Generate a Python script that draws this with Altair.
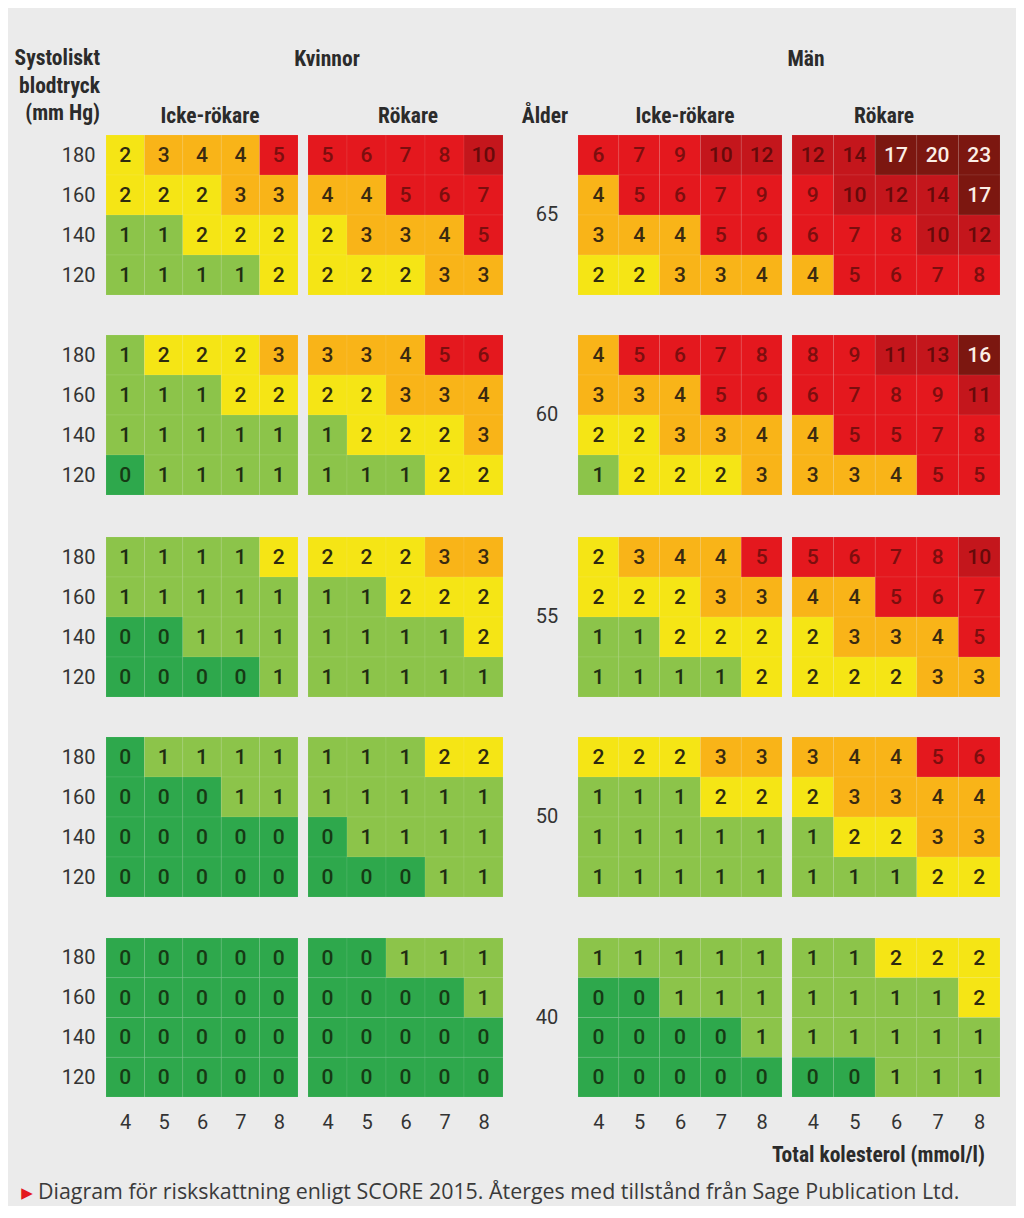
import altair as alt
import pandas as pd

# ---------------- data ----------------
chol = [4, 5, 6, 7, 8]
sbp = [180, 160, 140, 120]
ages = [65, 60, 55, 50, 40]
groups = [("Kvinnor", "Icke-rökare"), ("Kvinnor", "Rökare"),
          ("Män", "Icke-rökare"), ("Män", "Rökare")]

women_nonsmoker = {
    65: [[2, 3, 4, 4, 5], [2, 2, 2, 3, 3], [1, 1, 2, 2, 2], [1, 1, 1, 1, 2]],
    60: [[1, 2, 2, 2, 3], [1, 1, 1, 2, 2], [1, 1, 1, 1, 1], [0, 1, 1, 1, 1]],
    55: [[1, 1, 1, 1, 2], [1, 1, 1, 1, 1], [0, 0, 1, 1, 1], [0, 0, 0, 0, 1]],
    50: [[0, 1, 1, 1, 1], [0, 0, 0, 1, 1], [0, 0, 0, 0, 0], [0, 0, 0, 0, 0]],
    40: [[0, 0, 0, 0, 0], [0, 0, 0, 0, 0], [0, 0, 0, 0, 0], [0, 0, 0, 0, 0]],
}
women_smoker = {
    65: [[5, 6, 7, 8, 10], [4, 4, 5, 6, 7], [2, 3, 3, 4, 5], [2, 2, 2, 3, 3]],
    60: [[3, 3, 4, 5, 6], [2, 2, 3, 3, 4], [1, 2, 2, 2, 3], [1, 1, 1, 2, 2]],
    55: [[2, 2, 2, 3, 3], [1, 1, 2, 2, 2], [1, 1, 1, 1, 2], [1, 1, 1, 1, 1]],
    50: [[1, 1, 1, 2, 2], [1, 1, 1, 1, 1], [0, 1, 1, 1, 1], [0, 0, 0, 1, 1]],
    40: [[0, 0, 1, 1, 1], [0, 0, 0, 0, 1], [0, 0, 0, 0, 0], [0, 0, 0, 0, 0]],
}
men_nonsmoker = {
    65: [[6, 7, 9, 10, 12], [4, 5, 6, 7, 9], [3, 4, 4, 5, 6], [2, 2, 3, 3, 4]],
    60: [[4, 5, 6, 7, 8], [3, 3, 4, 5, 6], [2, 2, 3, 3, 4], [1, 2, 2, 2, 3]],
    55: [[2, 3, 4, 4, 5], [2, 2, 2, 3, 3], [1, 1, 2, 2, 2], [1, 1, 1, 1, 2]],
    50: [[2, 2, 2, 3, 3], [1, 1, 1, 2, 2], [1, 1, 1, 1, 1], [1, 1, 1, 1, 1]],
    40: [[1, 1, 1, 1, 1], [0, 0, 1, 1, 1], [0, 0, 0, 0, 1], [0, 0, 0, 0, 0]],
}
men_smoker = {
    65: [[12, 14, 17, 20, 23], [9, 10, 12, 14, 17], [6, 7, 8, 10, 12], [4, 5, 6, 7, 8]],
    60: [[8, 9, 11, 13, 16], [6, 7, 8, 9, 11], [4, 5, 5, 7, 8], [3, 3, 4, 5, 5]],
    55: [[5, 6, 7, 8, 10], [4, 4, 5, 6, 7], [2, 3, 3, 4, 5], [2, 2, 2, 3, 3]],
    50: [[3, 4, 4, 5, 6], [2, 3, 3, 4, 4], [1, 2, 2, 3, 3], [1, 1, 1, 2, 2]],
    40: [[1, 1, 2, 2, 2], [1, 1, 1, 1, 2], [1, 1, 1, 1, 1], [0, 0, 1, 1, 1]],
}
tables = [women_nonsmoker, women_smoker, men_nonsmoker, men_smoker]

risk_breaks = [1, 2, 3, 5, 10, 15]

title_lines = "Systoliskt\nblodtryck\n(mm Hg)"
age_title = "Ålder"
x_title = "Total kolesterol (mmol/l)"
footer = "Diagram för riskskattning enligt SCORE 2015. Återges med tillstånd från Sage Publication Ltd."

# ---------------- styling / layout ----------------
BG = "#ebebeb"
FILLS = ["#2ea84c", "#8cc44a", "#f5e515", "#f9b418", "#e4181e", "#c4161c", "#7c1710"]
TXT = ["#163a14", "#1f2d12", "#2e2a10", "#3a2a10", "#7c0e0e", "#660a0a", "#fbeee6"]
HEAD_FONT = "Liberation Sans Narrow, Roboto Condensed, Roboto, sans-serif"
NUM_FONT = "Roboto, sans-serif"
LAB_FONT = "Roboto, Open Sans, sans-serif"
FOOT_FONT = "Open Sans, Roboto, sans-serif"

W, H = 894, 1089
XR = [(0, 192), (202, 397), (472, 676), (686, 894)]
YR = [(127, 287), (327, 487), (529, 689), (729, 889), (930, 1089)]

rows = []
for gi, (sex, smk) in enumerate(groups):
    for age in ages:
        mat = tables[gi][age]
        for ri, bp in enumerate(sbp):
            for ci, c in enumerate(chol):
                rows.append(dict(g=gi, sex=sex, smoker=smk, age=age,
                                 sbp=bp, chol=c, risk=mat[ri][ci]))
df = pd.DataFrame(rows)

fill_scale = alt.Scale(type="threshold", domain=risk_breaks, range=FILLS)
text_scale = alt.Scale(type="threshold", domain=risk_breaks, range=TXT)


def panel(gi, ai):
    age = ages[ai]
    sub = df[(df.g == gi) & (df.age == age)]
    xs = alt.Scale(domain=[3.5, 8.5], range=list(XR[gi]), nice=False, zero=False)
    ys = alt.Scale(domain=[110, 190], range=[YR[ai][1], YR[ai][0]], nice=False, zero=False)
    xaxis = (alt.Axis(orient="bottom", values=chol, title=None, labelPadding=15,
                      labelFont=LAB_FONT, labelFontSize=20, labelColor="#333333",
                      grid=False, domain=False, ticks=False, tickSize=0)
             if ai == len(ages) - 1 else None)
    yaxis = (alt.Axis(orient="left", values=sbp, title=None, labelPadding=11,
                      labelFont=LAB_FONT, labelFontSize=20, labelColor="#333333",
                      grid=False, domain=False, ticks=False, tickSize=0)
             if gi == 0 else None)
    base = alt.Chart(sub).transform_calculate(
        c0="datum.chol - 0.5", c1="datum.chol + 0.5",
        s0="datum.sbp - 10", s1="datum.sbp + 10")
    rect = base.mark_rect(stroke="#ffffff", strokeWidth=0.6, strokeOpacity=0.12).encode(
        x=alt.X("c0:Q", scale=xs, axis=xaxis),
        x2="c1:Q",
        y=alt.Y("s0:Q", scale=ys, axis=yaxis),
        y2="s1:Q",
        color=alt.Color("risk:Q", scale=fill_scale, legend=None),
    )
    txt = base.mark_text(font=NUM_FONT, fontSize=21, fontWeight=500,
                         baseline="middle", dy=1).encode(
        x=alt.X("chol:Q", scale=xs, axis=xaxis),
        y=alt.Y("sbp:Q", scale=ys, axis=yaxis),
        text="risk:Q",
        fill=alt.Fill("risk:Q", scale=text_scale, legend=None),
    )
    layers = [rect, txt]
    if gi == 2:
        lab = alt.Chart(pd.DataFrame({"age": [str(age)]})).mark_text(
            font=LAB_FONT, fontSize=20, color="#333333", align="center", baseline="middle"
        ).encode(x=alt.value(441), y=alt.Y(datum=150, scale=ys, axis=yaxis), text="age:N")
        layers.append(lab)
    return alt.layer(*layers)


def note(text, x, y, align="center", font=HEAD_FONT, size=21.5, weight="bold",
         color="#2b2b2b", **kw):
    return alt.Chart(pd.DataFrame({"t": [text]})).mark_text(
        font=font, fontSize=size, fontWeight=weight, color=color, align=align,
        baseline="middle", **kw
    ).encode(text="t:N", x=alt.value(x), y=alt.value(y))


panels = [panel(gi, ai) for ai in range(len(ages)) for gi in range(len(groups))]

notes = [
    note(title_lines, -6, 51, align="right", lineBreak="\n", lineHeight=27.5),
    note(groups[0][0], 221, 52),
    note(groups[2][0], 700, 52),
    note(groups[0][1], 104, 109),
    note(groups[1][1], 302, 109),
    note(age_title, 439, 109),
    note(groups[2][1], 579, 109),
    note(groups[3][1], 778, 109),
    note(x_title, 879, 1148, align="right"),
    note("▶", -79, 1185, font="DejaVu Sans", size=15, weight="normal", color="#e4181e"),
    note(footer, -68, 1185, align="left", font=FOOT_FONT, size=21.4, weight="normal",
         color="#3a3a3a"),
]

chart = alt.layer(*panels, *notes).resolve_scale(
    x="independent", y="independent"
).resolve_axis(
    x="independent", y="independent"
).properties(
    width=W, height=H,
    autosize=alt.AutoSizeParams(type="none"),
    padding={"left": 98, "top": 0, "right": 16, "bottom": 109},
    background=BG,
).configure_view(stroke=None).configure_axis(
    grid=False, domain=False, ticks=False, tickSize=0
)

chart.save("out.html", embed_options={"renderer": "svg", "actions": False})
